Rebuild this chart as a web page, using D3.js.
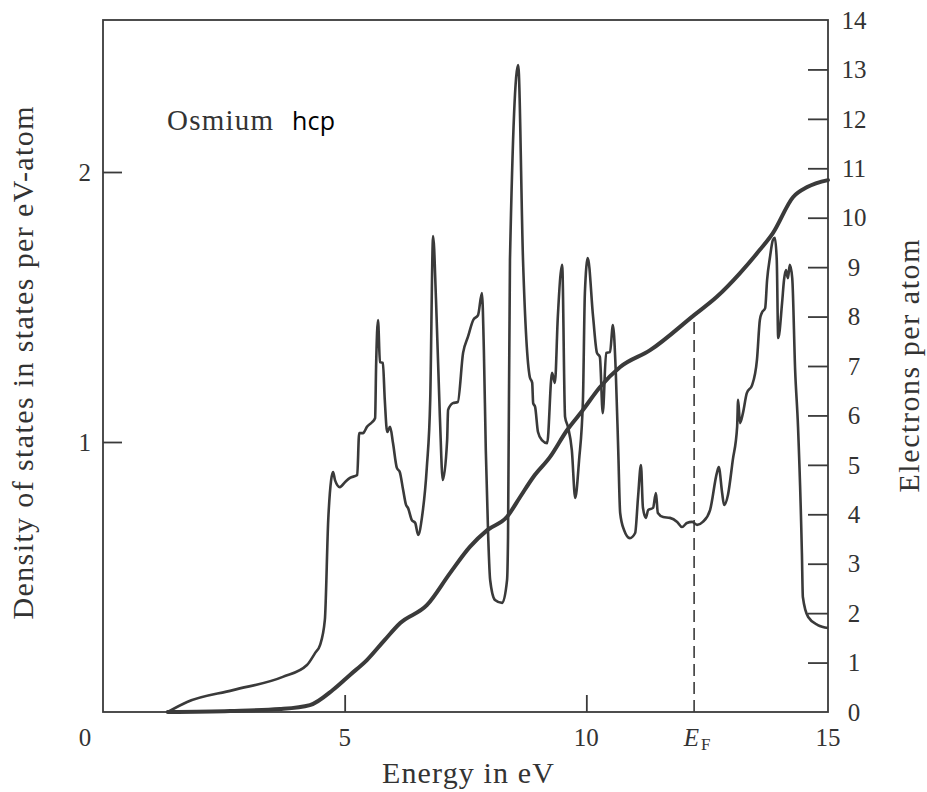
<!doctype html>
<html lang="en">
  <head>
    <meta charset="utf-8">
    <title>Osmium hcp - density of states</title>
    <style>
      body { margin: 0; background: #fff; }
      text { font-family: "Liberation Serif", "Times New Roman", serif; fill: #333; }
    </style>
  </head>

<body>

    <div id="container"></div>

    <!-- Load d3.js -->
    <script src="https://d3js.org/d3.v7.min.js"></script>

    <script>

        // Energy (eV) and density of states (states per eV-atom)
        const dosEnergy = [1.34, 1.74, 2.69, 3.72, 4.22, 4.39, 4.49, 4.59, 4.66, 4.72, 4.76, 4.80, 4.90, 5.01, 5.11, 5.26,
            5.30, 5.38, 5.46, 5.57, 5.63, 5.65, 5.69, 5.73, 5.79, 5.83, 5.88, 5.94, 6.00, 6.08, 6.14, 6.21, 6.27, 6.31,
            6.39, 6.46, 6.52, 6.60, 6.70, 6.77, 6.83, 6.89, 6.97, 7.03, 7.12, 7.14, 7.24, 7.34, 7.45, 7.55, 7.66, 7.76,
            7.84, 7.88, 7.92, 7.97, 8.01, 8.11, 8.26, 8.36, 8.38, 8.42, 8.59, 8.69, 8.83, 8.88, 8.90, 8.94, 9.00, 9.08,
            9.19, 9.29, 9.35, 9.41, 9.50, 9.56, 9.62, 9.70, 9.77, 9.85, 9.93, 9.97, 10.03, 10.14, 10.22, 10.28, 10.34,
            10.41, 10.49, 10.55, 10.61, 10.66, 10.70, 10.78, 10.90, 11.01, 11.07, 11.13, 11.17, 11.23, 11.28, 11.38,
            11.44, 11.48, 11.59, 11.73, 11.88, 11.98, 12.08, 12.19, 12.29, 12.41, 12.56, 12.70, 12.74, 12.81, 12.85,
            12.93, 13.03, 13.12, 13.14, 13.18, 13.24, 13.32, 13.43, 13.53, 13.59, 13.63, 13.70, 13.74, 13.80, 13.86,
            13.90, 13.94, 13.97, 14.05, 14.09, 14.13, 14.17, 14.21, 14.26, 14.32, 14.38, 14.46, 14.48, 14.59, 14.79, 15.00];
        const dosValue = [0.000, 0.037, 0.081, 0.130, 0.174, 0.219, 0.248, 0.341, 0.711, 0.859, 0.889, 0.859, 0.833, 0.852, 0.867, 0.878,
            1.033, 1.033, 1.056, 1.074, 1.089, 1.278, 1.452, 1.296, 1.293, 1.156, 1.037, 1.056, 0.996, 0.904, 0.889, 0.822, 0.767, 0.756,
            0.711, 0.700, 0.656, 0.722, 0.907, 1.156, 1.763, 1.526, 1.093, 0.859, 1.007, 1.119, 1.144, 1.148, 1.330, 1.389, 1.452, 1.470,
            1.552, 1.341, 0.970, 0.648, 0.489, 0.415, 0.404, 0.489, 0.648, 1.674, 2.396, 1.674, 1.241, 1.219, 1.144, 1.130, 1.037, 1.007,
            0.996, 1.256, 1.219, 1.463, 1.656, 1.093, 1.056, 0.970, 0.793, 0.933, 1.156, 1.552, 1.681, 1.463, 1.330, 1.315, 1.107,
            1.330, 1.333, 1.433, 1.256, 0.970, 0.737, 0.674, 0.644, 0.663, 0.796, 0.915, 0.759, 0.719, 0.748, 0.756,
            0.811, 0.737, 0.722, 0.719, 0.704, 0.685, 0.700, 0.704, 0.693, 0.704, 0.748, 0.885, 0.907, 0.811, 0.767,
            0.804, 0.933, 1.056, 1.156, 1.070, 1.107, 1.181, 1.211, 1.304, 1.452, 1.478, 1.496, 1.600, 1.685, 1.748,
            1.756, 1.674, 1.385, 1.515, 1.600, 1.637, 1.607, 1.656, 1.607, 1.267, 1.056, 0.589, 0.426, 0.352, 0.322, 0.311];

        // Integrated number of electrons per atom (right axis)
        const nEnergy = [1.34, 2.63, 3.66, 4.28, 4.76, 5.11, 5.46, 5.83, 6.15, 6.70, 7.18, 7.59, 7.95, 8.36, 8.63, 8.90,
            9.25, 9.60, 9.93, 10.28, 10.70, 11.32, 12.23, 12.70, 13.18, 13.59, 13.86, 14.28, 14.57, 15.00];
        const nValue = [0.00, 0.02, 0.06, 0.14, 0.45, 0.75, 1.05, 1.46, 1.80, 2.16, 2.81, 3.34, 3.68, 3.95, 4.35, 4.75,
            5.16, 5.70, 6.11, 6.57, 6.98, 7.32, 8.03, 8.40, 8.88, 9.35, 9.69, 10.42, 10.62, 10.76];

        const fermiEnergy = 12.23;

        // tick values
        const xTicks = [5, 10];
        const xTickLabels = ["0", "5", "10", "15"];
        const dosTicks = [1, 2];
        const nTicks = d3.range(0, 15);

        const width = 927;
        const height = 792;
        const margin = {top: 20, right: 99, bottom: 80, left: 103};

        const svg = d3.select("#container").append("svg")
            .attr("width", width)
            .attr("height", height);

        const x = d3.scaleLinear().domain([0, 15]).range([margin.left, width - margin.right]);
        const yDos = d3.scaleLinear().domain([0, 2.563]).range([height - margin.bottom, margin.top]);
        const yN = d3.scaleLinear().domain([0, 14]).range([height - margin.bottom, margin.top]);

        const ink = "#3a3a3a";

        // frame
        svg.append("rect")
            .attr("x", x(0)).attr("y", yN(14))
            .attr("width", x(15) - x(0)).attr("height", yN(0) - yN(14))
            .attr("fill", "none").attr("stroke", ink).attr("stroke-width", 1.8);

        // inward ticks, no labels from the axis itself
        svg.append("g")
            .attr("transform", "translate(0," + yN(0) + ")")
            .call(d3.axisTop(x).tickValues(xTicks).tickSize(17).tickFormat(""))
            .call(g => g.select(".domain").remove())
            .call(g => g.selectAll("line").attr("stroke", ink).attr("stroke-width", 1.8));

        svg.append("g")
            .attr("transform", "translate(" + x(0) + ",0)")
            .call(d3.axisRight(yDos).tickValues(dosTicks).tickSize(19).tickFormat(""))
            .call(g => g.select(".domain").remove())
            .call(g => g.selectAll("line").attr("stroke", ink).attr("stroke-width", 1.8));

        svg.append("g")
            .attr("transform", "translate(" + x(15) + ",0)")
            .call(d3.axisLeft(yN).tickValues(nTicks.slice(1, 14)).tickSize(20).tickFormat(""))
            .call(g => g.select(".domain").remove())
            .call(g => g.selectAll("line").attr("stroke", ink).attr("stroke-width", 1.8));

        // tick labels
        const tickFont = 25;
        svg.selectAll("text.xlab")
            .data(xTickLabels)
            .enter().append("text")
            .attr("class", "xlab")
            .attr("x", (d, i) => i === 0 ? 85 : x(+d))
            .attr("y", 746)
            .attr("text-anchor", "middle")
            .attr("font-size", tickFont)
            .text(d => d);

        const ef = svg.append("text")
            .attr("x", x(fermiEnergy) + 3)
            .attr("y", 746)
            .attr("text-anchor", "middle")
            .attr("font-size", tickFont);
        ef.append("tspan").attr("font-style", "italic").text("E");
        ef.append("tspan").attr("font-size", 17).attr("dy", 4).attr("dx", 2).text("F");

        svg.selectAll("text.dlab")
            .data(dosTicks)
            .enter().append("text")
            .attr("class", "dlab")
            .attr("x", 91)
            .attr("y", d => yDos(d))
            .attr("dy", "0.35em")
            .attr("text-anchor", "end")
            .attr("font-size", tickFont)
            .text(d => d);

        svg.selectAll("text.nlab")
            .data(nTicks)
            .enter().append("text")
            .attr("class", "nlab")
            .attr("x", 854)
            .attr("y", d => yN(d))
            .attr("dy", "0.35em")
            .attr("text-anchor", "middle")
            .attr("font-size", tickFont)
            .text(d => d);

        // axis titles
        svg.append("text")
            .attr("x", 468).attr("y", 783)
            .attr("text-anchor", "middle")
            .attr("font-size", 30)
            .attr("textLength", 172)
            .text("Energy in eV");

        svg.append("text")
            .attr("transform", "translate(33,363) rotate(-90)")
            .attr("text-anchor", "middle")
            .attr("font-size", 30)
            .attr("textLength", 513)
            .text("Density of states in states per eV-atom");

        svg.append("text")
            .attr("transform", "translate(919,366) rotate(-90)")
            .attr("text-anchor", "middle")
            .attr("font-size", 30)
            .attr("textLength", 253)
            .text("Electrons per atom");

        // label inside the plot
        svg.append("text")
            .attr("x", 167).attr("y", 130)
            .attr("font-size", 29)
            .attr("textLength", 106)
            .text("Osmium");
        svg.append("text")
            .attr("x", 292).attr("y", 130)
            .attr("font-size", 25)
            .style("font-family", "'Open Sans', sans-serif")
            .style("fill", "#000")
            .attr("textLength", 43)
            .text("hcp");

        // Fermi level
        const nAtFermi = nValue[nEnergy.indexOf(fermiEnergy)];
        svg.append("line")
            .attr("x1", x(fermiEnergy)).attr("x2", x(fermiEnergy))
            .attr("y1", yN(0)).attr("y2", yN(nAtFermi))
            .attr("stroke", ink).attr("stroke-width", 1.6)
            .attr("stroke-dasharray", "12,6");

        // curves
        const dosLine = d3.line()
            .x(i => x(dosEnergy[i]))
            .y(i => yDos(dosValue[i]))
            .curve(d3.curveMonotoneX);

        const nLine = d3.line()
            .x(i => x(nEnergy[i]))
            .y(i => yN(nValue[i]))
            .curve(d3.curveMonotoneX);

        svg.append("path")
            .attr("d", dosLine(d3.range(dosEnergy.length)))
            .attr("fill", "none")
            .attr("stroke", ink)
            .attr("stroke-width", 2.6)
            .attr("stroke-linejoin", "round");

        svg.append("path")
            .attr("d", nLine(d3.range(nEnergy.length)))
            .attr("fill", "none")
            .attr("stroke", ink)
            .attr("stroke-width", 4)
            .attr("stroke-linecap", "round");

    </script>

</body>

</html>
